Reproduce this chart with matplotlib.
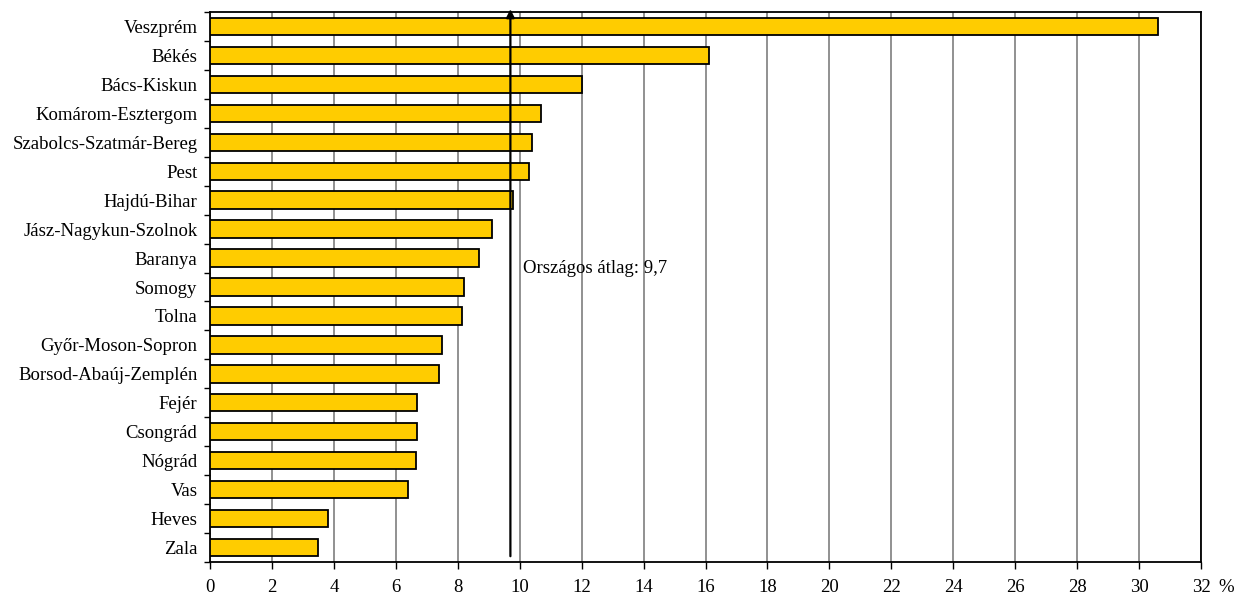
import numpy as np
import matplotlib
matplotlib.use("Agg")
import matplotlib.pyplot as plt

megyek = ["Veszprém", "Békés", "Bács-Kiskun", "Komárom-Esztergom",
          "Szabolcs-Szatmár-Bereg", "Pest", "Hajdú-Bihar", "Jász-Nagykun-Szolnok",
          "Baranya", "Somogy", "Tolna", "Győr-Moson-Sopron", "Borsod-Abaúj-Zemplén",
          "Fejér", "Csongrád", "Nógrád", "Vas", "Heves", "Zala"]
ertekek = [30.6, 16.1, 12.0, 10.7, 10.4, 10.3, 9.8, 9.1, 8.7, 8.2, 8.15,
           7.5, 7.4, 6.7, 6.7, 6.65, 6.4, 3.8, 3.5]
orszagos_atlag = 9.7
x_ticks = list(range(0, 33, 2))

plt.rcParams["font.family"] = ["Liberation Serif", "DejaVu Serif"]
plt.rcParams["font.size"] = 13.5

fig = plt.figure(figsize=(12.39, 5.96), dpi=100)
ax = fig.add_axes([210 / 1239, 1 - 562 / 596, (1201 - 210) / 1239, (562 - 12) / 596])

n = len(megyek)
y = np.arange(n)
ax.barh(y, ertekek, height=0.6, color="#FFCC00", edgecolor="black", linewidth=1.3, zorder=3)

ax.set_xlim(0, 32)
ax.set_ylim(n - 0.5, -0.5)
ax.set_xticks(x_ticks)
ax.set_xticklabels([str(t) for t in x_ticks])
ax.set_yticks(y)
ax.set_yticklabels(megyek)
ax.set_yticks(np.arange(-0.5, n, 1), minor=True)
ax.tick_params(axis="y", which="major", length=0, pad=9)
ax.tick_params(axis="y", which="minor", length=4, width=1)
ax.tick_params(axis="x", length=5, width=1, pad=7)

ax.grid(axis="x", color="#888888", linewidth=1.3, zorder=0)
for s in ax.spines.values():
    s.set_linewidth(1.3)
    s.set_color("black")

# országos átlag nyíl
ax.annotate("", xy=(orszagos_atlag, -0.6), xytext=(orszagos_atlag, n - 0.7),
            arrowprops=dict(arrowstyle="-|>", color="black", lw=1.6, mutation_scale=12,
                            shrinkA=0, shrinkB=0),
            annotation_clip=False, zorder=4)
ax.text(orszagos_atlag + 0.4, 8.35, "Országos átlag: 9,7", ha="left", va="center", zorder=5)

fig.text(1218 / 1239, 1 - 587 / 596, "%", ha="left", va="center")

fig.savefig("out.png", dpi=100)
